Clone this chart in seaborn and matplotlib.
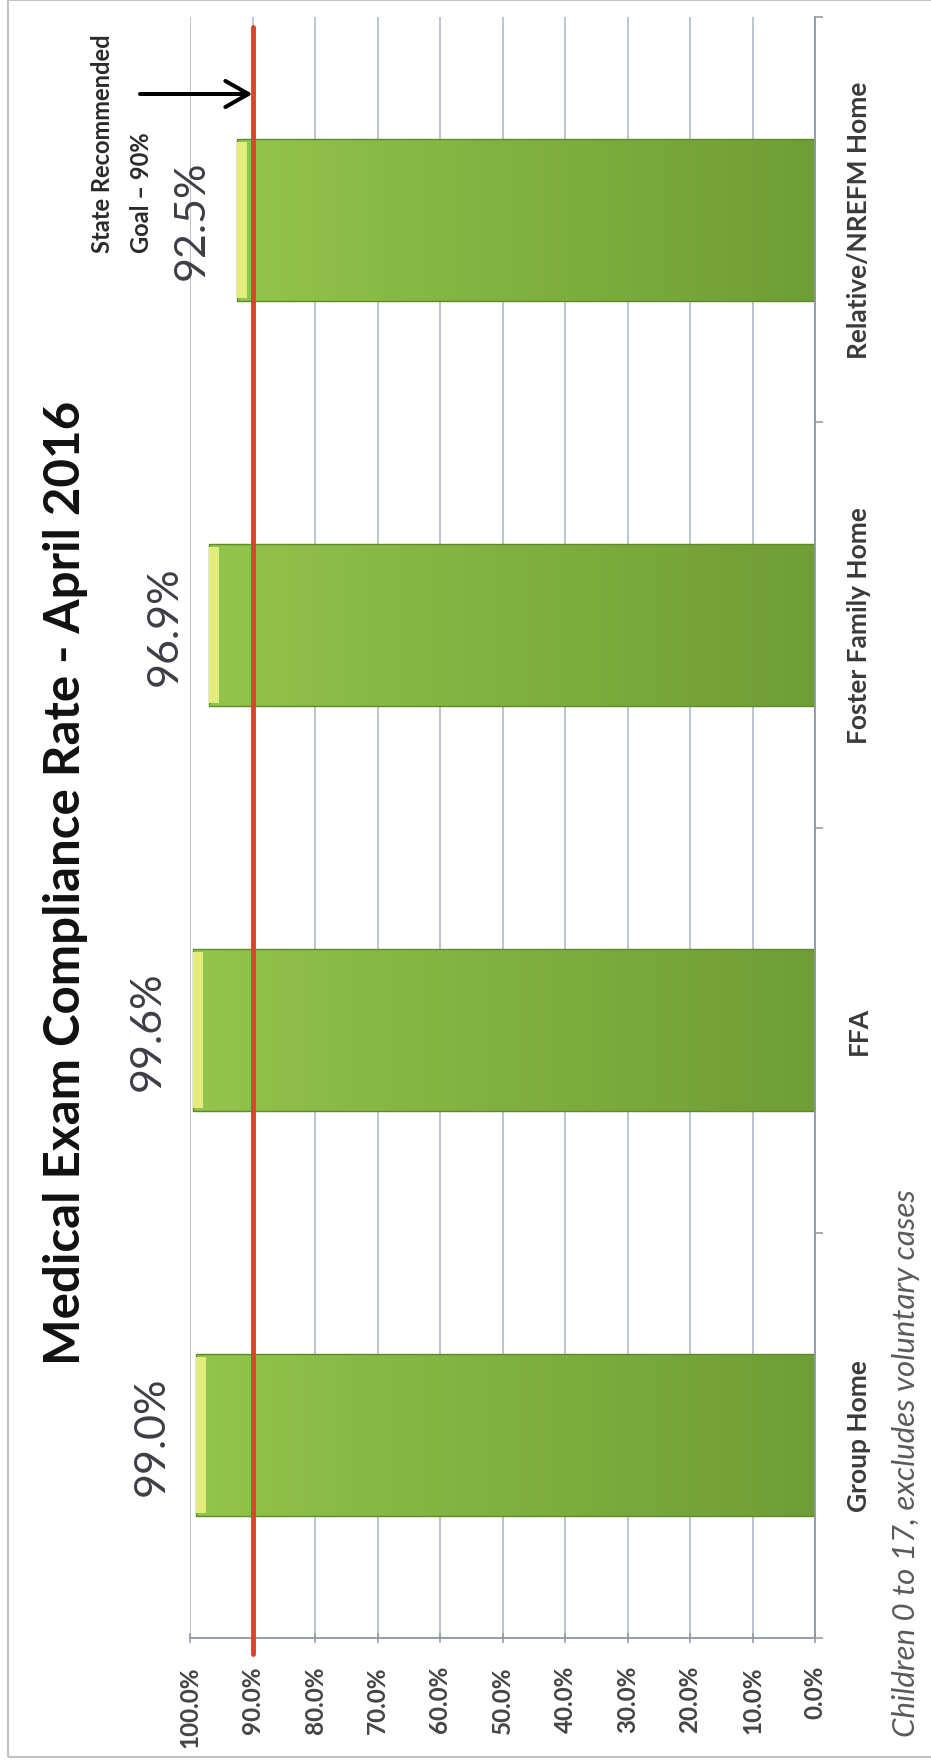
import numpy as np
import pandas as pd
import matplotlib
matplotlib.use("Agg")
import matplotlib.pyplot as plt
import seaborn as sns
from matplotlib.colors import LinearSegmentedColormap
from matplotlib.patches import Rectangle

# ---------------- data ----------------
categories = ["Group Home", "FFA", "Foster Family Home", "Relative/NREFM Home"]
compliance = [99.0, 99.6, 96.9, 92.5]
goal = 90.0
x_ticks = [0, 10, 20, 30, 40, 50, 60, 70, 80, 90, 100]
title = "Medical Exam Compliance Rate - April 2016"
goal_label = "State Recommended\nGoal – 90%"
footnote = "Children 0 to 17, excludes voluntary cases"

# ---------------- style ----------------
sns.set_theme(style="white")
plt.rcParams['font.family'] = ['Lato', 'DejaVu Sans']

W, H = 931, 1765
fig = plt.figure(figsize=(W / 100, H / 100), dpi=100)
fig.patch.set_facecolor("white")
ax = fig.add_axes([190 / W, 1 - 1639 / H, 625 / W, 1621 / H])

df = pd.DataFrame({"category": categories, "rate": compliance})
order = categories[::-1]
sns.barplot(data=df, x="rate", y="category", order=order, orient="h",
            width=0.4, color="#7fae3d", saturation=1,
            edgecolor="#5e8a2c", linewidth=1.0, ax=ax, zorder=2)

# gradient fill of the bars
cmap = LinearSegmentedColormap.from_list("bar", ["#6f9d36", "#80b040", "#93c44c"])
bars = list(ax.patches)
for p in bars:
    x0, y0, w, h = p.get_x(), p.get_y(), p.get_width(), p.get_height()
    grad = np.linspace(0, 1, 256).reshape(1, -1)
    im = ax.imshow(grad, extent=[x0, x0 + w, y0 + h, y0], cmap=cmap,
                   aspect="auto", zorder=2.1, interpolation="bicubic")
    im.set_clip_path(p)
    p.set_facecolor("none")
    p.set_zorder(2.2)

# light bevel cap at the end of each bar
pos = [order.index(c) for c in categories]
cap = 1.6
ax.barh(pos, [cap] * len(compliance), left=[v - cap for v in compliance],
        height=0.385, color="#e4ec7e", zorder=2.3, linewidth=0)

ax.set_xlim(100, 0)
ax.set_ylim(3.5, -0.5)

# goal line
ax.axvline(goal, ymin=-0.01, ymax=0.994, color="#d9442a", lw=3.5,
           clip_on=False, zorder=4)

# arrow to the goal line
ax.annotate("", xy=(goal, -0.31), xytext=(108, -0.31), textcoords="data",
            arrowprops=dict(arrowstyle="->,head_length=0.83,head_width=0.47",
                            lw=2.9, color="black", shrinkA=0, shrinkB=0,
                            mutation_scale=20),
            annotation_clip=False, zorder=5)

# value labels
for c, v in zip(categories, compliance):
    ax.annotate(f"{v:.1f}%", xy=(v, order.index(c)), xytext=(-45, 0),
                textcoords="offset pixels", rotation=90, ha="center",
                va="center", fontsize=31, color="#3d3d47",
                annotation_clip=False)

# axes styling
ax.set_xticks(x_ticks)
ax.set_xticklabels([f"{t:.1f}%" for t in x_ticks])
ax.xaxis.grid(True, color="#aab4c2", lw=1.1)
ax.yaxis.grid(False)
ax.set_axisbelow(True)
for s in ["top", "left"]:
    ax.spines[s].set_visible(False)
for s in ["right", "bottom"]:
    ax.spines[s].set_color("#8e96a3")
    ax.spines[s].set_linewidth(1.3)
ax.set_xlabel("")
ax.set_ylabel("")

ax.tick_params(axis="x", which="major", bottom=True, direction="inout",
               length=7, width=1.1, color="#8e96a3", pad=16, labelsize=17.5,
               labelcolor="#444444")
plt.setp(ax.get_xticklabels(), rotation=90, ha="center", va="top",
         fontweight="bold")

ax.yaxis.tick_right()
ax.set_yticks(range(len(order)))
ax.set_yticklabels(order)
ax.set_yticks([-0.5, 0.5, 1.5, 2.5, 3.5], minor=True)
ax.tick_params(axis="y", which="major", length=0, pad=23, labelsize=19,
               labelcolor="#3a3a3a", right=True, left=False,
               labelright=True, labelleft=False)
ax.tick_params(axis="y", which="minor", length=6, width=1.1,
               color="#8e96a3", direction="out", right=True, left=False)
plt.setp(ax.get_yticklabels(), rotation=90, va="center", ha="left",
         fontweight="bold")

# texts
fig.text(66 / W, 1 - 1365 / H, title, rotation=90, ha="center", va="bottom",
         fontsize=35.5, fontweight="bold", color="#111111")
fig.text(906 / W, 1 - 1737 / H, footnote, rotation=90, ha="center",
         va="bottom", fontsize=22.5, style="italic", color="#5a5a5a")
fig.text(122 / W, 1 - 253 / H, goal_label, rotation=90, ha="center",
         va="bottom", multialignment="left", fontsize=17, fontweight="bold",
         linespacing=1.85, color="#2a2a2a")

# figure border
fig.patches.append(Rectangle((8 / W, 7 / H), 1.0, (H - 8) / H, fill=False,
                             edgecolor="#c4c4c4", lw=1.5,
                             transform=fig.transFigure, figure=fig))

fig.savefig("out.png", dpi=100)
